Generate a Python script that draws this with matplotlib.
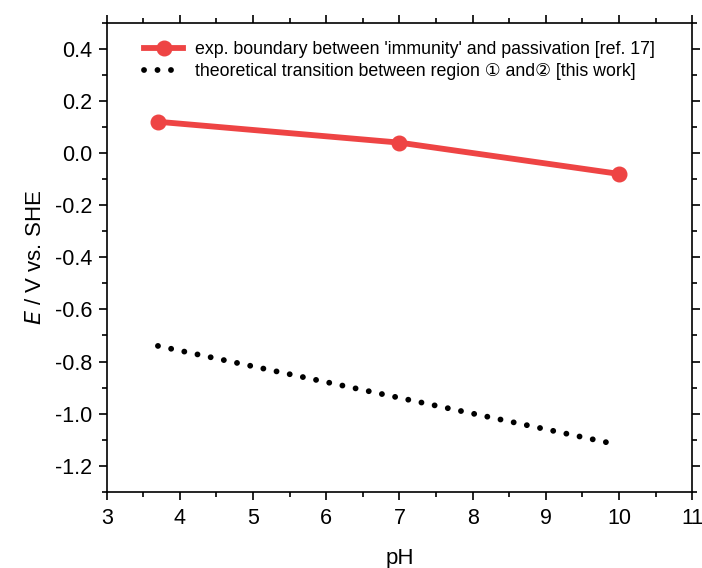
import matplotlib
matplotlib.use("Agg")
import matplotlib.pyplot as plt
from matplotlib.ticker import MultipleLocator, FormatStrFormatter

plt.rcParams['font.family'] = ['Liberation Sans', 'DejaVu Sans', 'Noto Sans CJK SC']

exp_ph = [3.7, 7.0, 10.0]
exp_E = [0.12, 0.04, -0.08]
theo_ph = [3.7, 10.0]
theo_E = [-0.74, -1.12]

label_exp = "exp. boundary between 'immunity' and passivation [ref. 17]"
label_theo = "theoretical transition between region \u2460 and\u2461 [this work]"

fig = plt.figure(figsize=(7.02, 5.68), dpi=100)
ax = fig.add_axes([0.152, 0.134, 0.834, 0.826])

ax.plot(exp_ph, exp_E, color='#EE4444', lw=4.2, marker='o', markersize=10.5,
        label=label_exp)
ax.plot(theo_ph, theo_E, color='black', lw=4.2, linestyle=(0, (0.01, 2.3)),
        dash_capstyle='round', label=label_theo)

ax.set_xlim(3, 11)
ax.set_ylim(-1.3, 0.5)
ax.xaxis.set_major_locator(MultipleLocator(1))
ax.xaxis.set_minor_locator(MultipleLocator(0.5))
ax.yaxis.set_major_locator(MultipleLocator(0.2))
ax.yaxis.set_minor_locator(MultipleLocator(0.1))
ax.yaxis.set_major_formatter(FormatStrFormatter('%.1f'))

ax.tick_params(which='both', direction='out', top=True, right=True,
               labeltop=False, labelright=False, width=1.2)
ax.tick_params(which='major', length=5.5, labelsize=15.5, pad=5)
ax.tick_params(axis='x', which='major', pad=6)
ax.tick_params(which='minor', length=3.5)
for s in ax.spines.values():
    s.set_linewidth(1.2)

ax.set_xlabel('pH', fontsize=16, labelpad=14)
ax.set_ylabel(r'$\it{E}$ / V vs. SHE', fontsize=16, labelpad=6)

ax.legend(loc='upper left', bbox_to_anchor=(0.037, 0.995), frameon=False,
          fontsize=12.8, handlelength=2.2, labelspacing=0.3, handletextpad=0.65)

fig.savefig('out.png', dpi=100)
